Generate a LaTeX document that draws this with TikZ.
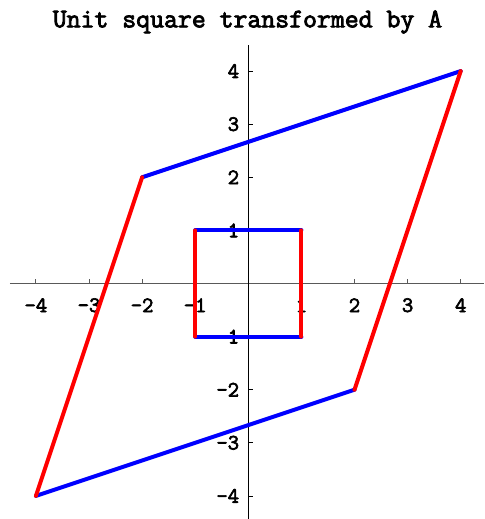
\documentclass[tikz,border=0pt]{standalone}
\usepackage{fontspec}
\newfontfamily\cour[AutoFakeBold=3]{Latin Modern Mono}
\begin{document}
\begin{tikzpicture}[x=53.1pt,y=53.1pt,
  ticklab/.style={font=\cour\bfseries\fontsize{22}{22}\selectfont,inner sep=0pt},
  redline/.style={draw={rgb,255:red,255;green,0;blue,0},line width=4pt,line cap=round},
  blueline/.style={draw={rgb,255:red,0;green,0;blue,255},line width=4pt,line cap=round}]
\useasboundingbox (-4.676,-4.435) rectangle (4.439,5.339);
% axes
\coordinate (xl) at (-4.488,0);
\coordinate (xr) at (4.439,0);
\coordinate (yt) at (0,4.49);
\coordinate (yb) at (0,-4.435);
\draw[gray!70!black,line width=0.9pt] (xl) -- (xr);
\draw[black,line width=0.9pt] (yb) -- (yt);
\foreach \t in {-4,-3,-2,-1,1,2,3,4}{
  \draw[gray!70!black,line width=0.8pt] (\t,0) -- (\t,0.08);
  \node[ticklab,anchor=center] (xt\t) at (\t,-0.41) {\t};
  \draw[black,line width=0.8pt] (0,\t) -- (0.08,\t);
  \node[ticklab,anchor=east] (yt\t) at (-0.17,\t) {\t};
}
% title
\node[font=\cour\bfseries\fontsize{27}{27}\selectfont,inner sep=0pt] (title) at (-0.015,4.925) {Unit square transformed by A};
% parallelogram
\coordinate (P1) at (-4,-4);
\coordinate (P2) at (-2,2);
\coordinate (P3) at (4,4);
\coordinate (P4) at (2,-2);
\draw[blueline] (P2) -- (P3);
\draw[blueline] (P1) -- (P4);
\draw[redline] (P1) -- (P2);
\draw[redline] (P4) -- (P3);
% unit square
\coordinate (S1) at (-1,-1);
\coordinate (S2) at (-1,1);
\coordinate (S3) at (1,1);
\coordinate (S4) at (1,-1);
\draw[blueline] (S2) -- (S3);
\draw[blueline] (S1) -- (S4);
\draw[redline] (S1) -- (S2);
\draw[redline] (S4) -- (S3);
\end{tikzpicture}
\end{document}
